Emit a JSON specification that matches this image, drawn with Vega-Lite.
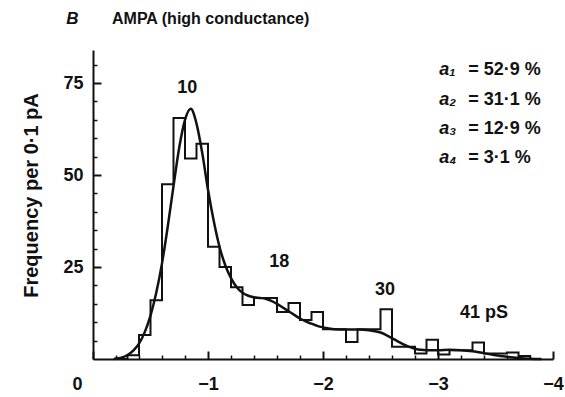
{
  "$schema": "https://vega.github.io/schema/vega-lite/v6.json",
  "width": 460,
  "height": 309,
  "autosize": "none",
  "padding": {"left": 93, "top": 50, "right": 12, "bottom": 38},
  "background": "white",
  "config": {"font": "Liberation Sans", "view": {"stroke": null}},
  "title": {"text": "AMPA (high conductance)", "anchor": "start", "frame": "group", "dx": 19, "offset": -17, "fontSize": 16, "fontWeight": "bold", "font": "Liberation Sans", "color": "#111"},
  "datasets": {
    "hist": [
      {"amplitude": -0.2, "frequency": 0},
      {"amplitude": -0.3, "frequency": 1},
      {"amplitude": -0.4, "frequency": 6.5},
      {"amplitude": -0.5, "frequency": 16},
      {"amplitude": -0.6, "frequency": 47.5},
      {"amplitude": -0.7, "frequency": 65.5},
      {"amplitude": -0.8, "frequency": 54.5},
      {"amplitude": -0.9, "frequency": 58.5},
      {"amplitude": -1.0, "frequency": 30.5},
      {"amplitude": -1.1, "frequency": 25},
      {"amplitude": -1.2, "frequency": 19.5},
      {"amplitude": -1.3, "frequency": 14.7},
      {"amplitude": -1.4, "frequency": 16.6},
      {"amplitude": -1.5, "frequency": 16.6},
      {"amplitude": -1.6, "frequency": 12.8},
      {"amplitude": -1.7, "frequency": 15.2},
      {"amplitude": -1.8, "frequency": 10.6},
      {"amplitude": -1.9, "frequency": 12.8},
      {"amplitude": -2.0, "frequency": 8.1},
      {"amplitude": -2.1, "frequency": 8.1},
      {"amplitude": -2.2, "frequency": 4.6},
      {"amplitude": -2.3, "frequency": 8.1},
      {"amplitude": -2.4, "frequency": 8.1},
      {"amplitude": -2.5, "frequency": 13.5},
      {"amplitude": -2.6, "frequency": 3.3},
      {"amplitude": -2.7, "frequency": 3.3},
      {"amplitude": -2.8, "frequency": 1.5},
      {"amplitude": -2.9, "frequency": 5.2},
      {"amplitude": -3.0, "frequency": 1.2},
      {"amplitude": -3.1, "frequency": 2.4},
      {"amplitude": -3.2, "frequency": 2.4},
      {"amplitude": -3.3, "frequency": 4.5},
      {"amplitude": -3.4, "frequency": 1.5},
      {"amplitude": -3.5, "frequency": 1.5},
      {"amplitude": -3.6, "frequency": 1.8},
      {"amplitude": -3.7, "frequency": 0.8},
      {"amplitude": -3.8, "frequency": 0}
    ],
    "fit": [
      {"amplitude": -0.18, "frequency": 0},
      {"amplitude": -0.22, "frequency": 0.2},
      {"amplitude": -0.26, "frequency": 0.5},
      {"amplitude": -0.3, "frequency": 1.1},
      {"amplitude": -0.35, "frequency": 2.3},
      {"amplitude": -0.4, "frequency": 4.2},
      {"amplitude": -0.45, "frequency": 7.3},
      {"amplitude": -0.5, "frequency": 11.8},
      {"amplitude": -0.55, "frequency": 18},
      {"amplitude": -0.6, "frequency": 26},
      {"amplitude": -0.65, "frequency": 36},
      {"amplitude": -0.7, "frequency": 47},
      {"amplitude": -0.75, "frequency": 57.5},
      {"amplitude": -0.8, "frequency": 65},
      {"amplitude": -0.85, "frequency": 68},
      {"amplitude": -0.9, "frequency": 64},
      {"amplitude": -0.95, "frequency": 56},
      {"amplitude": -1.0, "frequency": 46},
      {"amplitude": -1.05, "frequency": 37.5},
      {"amplitude": -1.1, "frequency": 30.5},
      {"amplitude": -1.15, "frequency": 25.5},
      {"amplitude": -1.2, "frequency": 22},
      {"amplitude": -1.25, "frequency": 19.5},
      {"amplitude": -1.3, "frequency": 18},
      {"amplitude": -1.35, "frequency": 17.2},
      {"amplitude": -1.4, "frequency": 16.8},
      {"amplitude": -1.45, "frequency": 16.6},
      {"amplitude": -1.5, "frequency": 16.4},
      {"amplitude": -1.55, "frequency": 15.8},
      {"amplitude": -1.6, "frequency": 15},
      {"amplitude": -1.65, "frequency": 14},
      {"amplitude": -1.7, "frequency": 13},
      {"amplitude": -1.75, "frequency": 12},
      {"amplitude": -1.8, "frequency": 11},
      {"amplitude": -1.85, "frequency": 10.2},
      {"amplitude": -1.9, "frequency": 9.6},
      {"amplitude": -1.95, "frequency": 9},
      {"amplitude": -2.0, "frequency": 8.6},
      {"amplitude": -2.05, "frequency": 8.3},
      {"amplitude": -2.1, "frequency": 8.1},
      {"amplitude": -2.2, "frequency": 8},
      {"amplitude": -2.3, "frequency": 8},
      {"amplitude": -2.4, "frequency": 7.8},
      {"amplitude": -2.5, "frequency": 7.2},
      {"amplitude": -2.55, "frequency": 6.5},
      {"amplitude": -2.6, "frequency": 5.7},
      {"amplitude": -2.65, "frequency": 4.8},
      {"amplitude": -2.7, "frequency": 4},
      {"amplitude": -2.75, "frequency": 3.3},
      {"amplitude": -2.8, "frequency": 2.8},
      {"amplitude": -2.85, "frequency": 2.5},
      {"amplitude": -2.9, "frequency": 2.4},
      {"amplitude": -3.0, "frequency": 2.4},
      {"amplitude": -3.1, "frequency": 2.5},
      {"amplitude": -3.2, "frequency": 2.4},
      {"amplitude": -3.3, "frequency": 2.1},
      {"amplitude": -3.4, "frequency": 1.6},
      {"amplitude": -3.5, "frequency": 1.0},
      {"amplitude": -3.6, "frequency": 0.6},
      {"amplitude": -3.7, "frequency": 0.3},
      {"amplitude": -3.8, "frequency": 0.1},
      {"amplitude": -3.9, "frequency": 0}
    ],
    "peaks": [
      {"amplitude": -0.82, "frequency": 73.8, "label": "10"},
      {"amplitude": -1.62, "frequency": 26.4, "label": "18"},
      {"amplitude": -2.54, "frequency": 18.8, "label": "30"},
      {"amplitude": -3.4, "frequency": 12.5, "label": "41 pS"}
    ],
    "weights": [
      {"amplitude": -3.01, "frequency": 78.5, "symbol": "a₁", "value": "= 52·9 %"},
      {"amplitude": -3.01, "frequency": 70.4, "symbol": "a₂", "value": "= 31·1 %"},
      {"amplitude": -3.01, "frequency": 62.5, "symbol": "a₃", "value": "= 12·9 %"},
      {"amplitude": -3.01, "frequency": 54.6, "symbol": "a₄", "value": "= 3·1 %"}
    ],
    "panel": [
      {"amplitude": 0.18, "frequency": 92.4, "label": "B"}
    ]
  },
  "layer": [
    {
      "data": {"name": "hist"},
      "mark": {"type": "line", "interpolate": "step-after", "color": "#111", "strokeWidth": 2},
      "encoding": {
        "x": {"field": "amplitude", "type": "quantitative",
          "scale": {"domain": [0, -4], "nice": false, "zero": false},
          "axis": {"values": [0, -1, -2, -3, -4], "tickSize": -8, "tickWidth": 2, "tickColor": "#111",
            "domainColor": "#111", "domainWidth": 2, "grid": false, "title": null,
            "labelFont": "Liberation Sans", "labelFontSize": 18, "labelFontWeight": "bold", "labelColor": "#111",
            "labelPadding": 24, "labelFlush": false, "labelOverlap": false,
            "labelOffset": {"condition": {"test": "datum.value === 0", "value": -16}, "value": 0}}},
        "y": {"field": "frequency", "type": "quantitative",
          "scale": {"domain": [0, 84], "nice": false, "zero": false},
          "axis": {"values": [25, 50, 75], "tickSize": -8, "tickWidth": 2, "tickColor": "#111",
            "domainColor": "#111", "domainWidth": 2, "grid": false,
            "title": "Frequency per 0·1 pA", "titleFont": "Liberation Sans", "titleFontSize": 20, "titleFontWeight": "bold",
            "titleColor": "#111", "titlePadding": 21, "titleY": 145,
            "labelFont": "Liberation Sans", "labelFontSize": 18, "labelFontWeight": "bold", "labelColor": "#111",
            "labelPadding": 18, "labelFlush": false, "labelOverlap": false}},
        "order": {"field": "amplitude", "sort": "descending"}
      }
    },
    {
      "data": {"name": "fit"},
      "mark": {"type": "line", "interpolate": "monotone", "color": "#111", "strokeWidth": 2.5},
      "encoding": {
        "x": {"field": "amplitude", "type": "quantitative",
          "axis": {"orient": "bottom", "values": [-0.2, -0.4, -0.6, -0.8, -1.2, -1.4, -1.6, -1.8, -2.2, -2.4, -2.6, -2.8, -3.2, -3.4, -3.6, -3.8],
            "tickSize": -4, "tickWidth": 1.5, "tickColor": "#111", "domain": false, "labels": false, "grid": false, "title": null}},
        "y": {"field": "frequency", "type": "quantitative",
          "axis": {"orient": "left", "values": [5, 10, 15, 20, 30, 35, 40, 45, 55, 60, 65, 70, 80],
            "tickSize": -4, "tickWidth": 1.5, "tickColor": "#111", "domain": false, "labels": false, "grid": false, "title": null}}
      }
    },
    {
      "data": {"name": "peaks"},
      "mark": {"type": "text", "font": "Liberation Sans", "fontSize": 18, "fontWeight": "bold", "color": "#111", "align": "center", "baseline": "middle"},
      "encoding": {
        "x": {"field": "amplitude", "type": "quantitative", "axis": null},
        "y": {"field": "frequency", "type": "quantitative", "axis": null},
        "text": {"field": "label"}
      }
    },
    {
      "data": {"name": "weights"},
      "mark": {"type": "text", "font": "Liberation Sans", "fontSize": 18, "fontWeight": "bold", "fontStyle": "italic", "color": "#111", "align": "left", "baseline": "middle"},
      "encoding": {
        "x": {"field": "amplitude", "type": "quantitative", "axis": null},
        "y": {"field": "frequency", "type": "quantitative", "axis": null},
        "text": {"field": "symbol"}
      }
    },
    {
      "data": {"name": "weights"},
      "mark": {"type": "text", "font": "Liberation Sans", "fontSize": 18, "fontWeight": "bold", "color": "#111", "align": "left", "baseline": "middle", "dx": 29},
      "encoding": {
        "x": {"field": "amplitude", "type": "quantitative", "axis": null},
        "y": {"field": "frequency", "type": "quantitative", "axis": null},
        "text": {"field": "value"}
      }
    },
    {
      "data": {"name": "panel"},
      "mark": {"type": "text", "font": "Liberation Sans", "fontSize": 17, "fontWeight": "bold", "fontStyle": "italic", "color": "#111", "align": "center", "baseline": "middle"},
      "encoding": {
        "x": {"field": "amplitude", "type": "quantitative", "axis": null},
        "y": {"field": "frequency", "type": "quantitative", "axis": null},
        "text": {"field": "label"}
      }
    }
  ],
  "resolve": {"axis": {"x": "independent", "y": "independent"}}
}
